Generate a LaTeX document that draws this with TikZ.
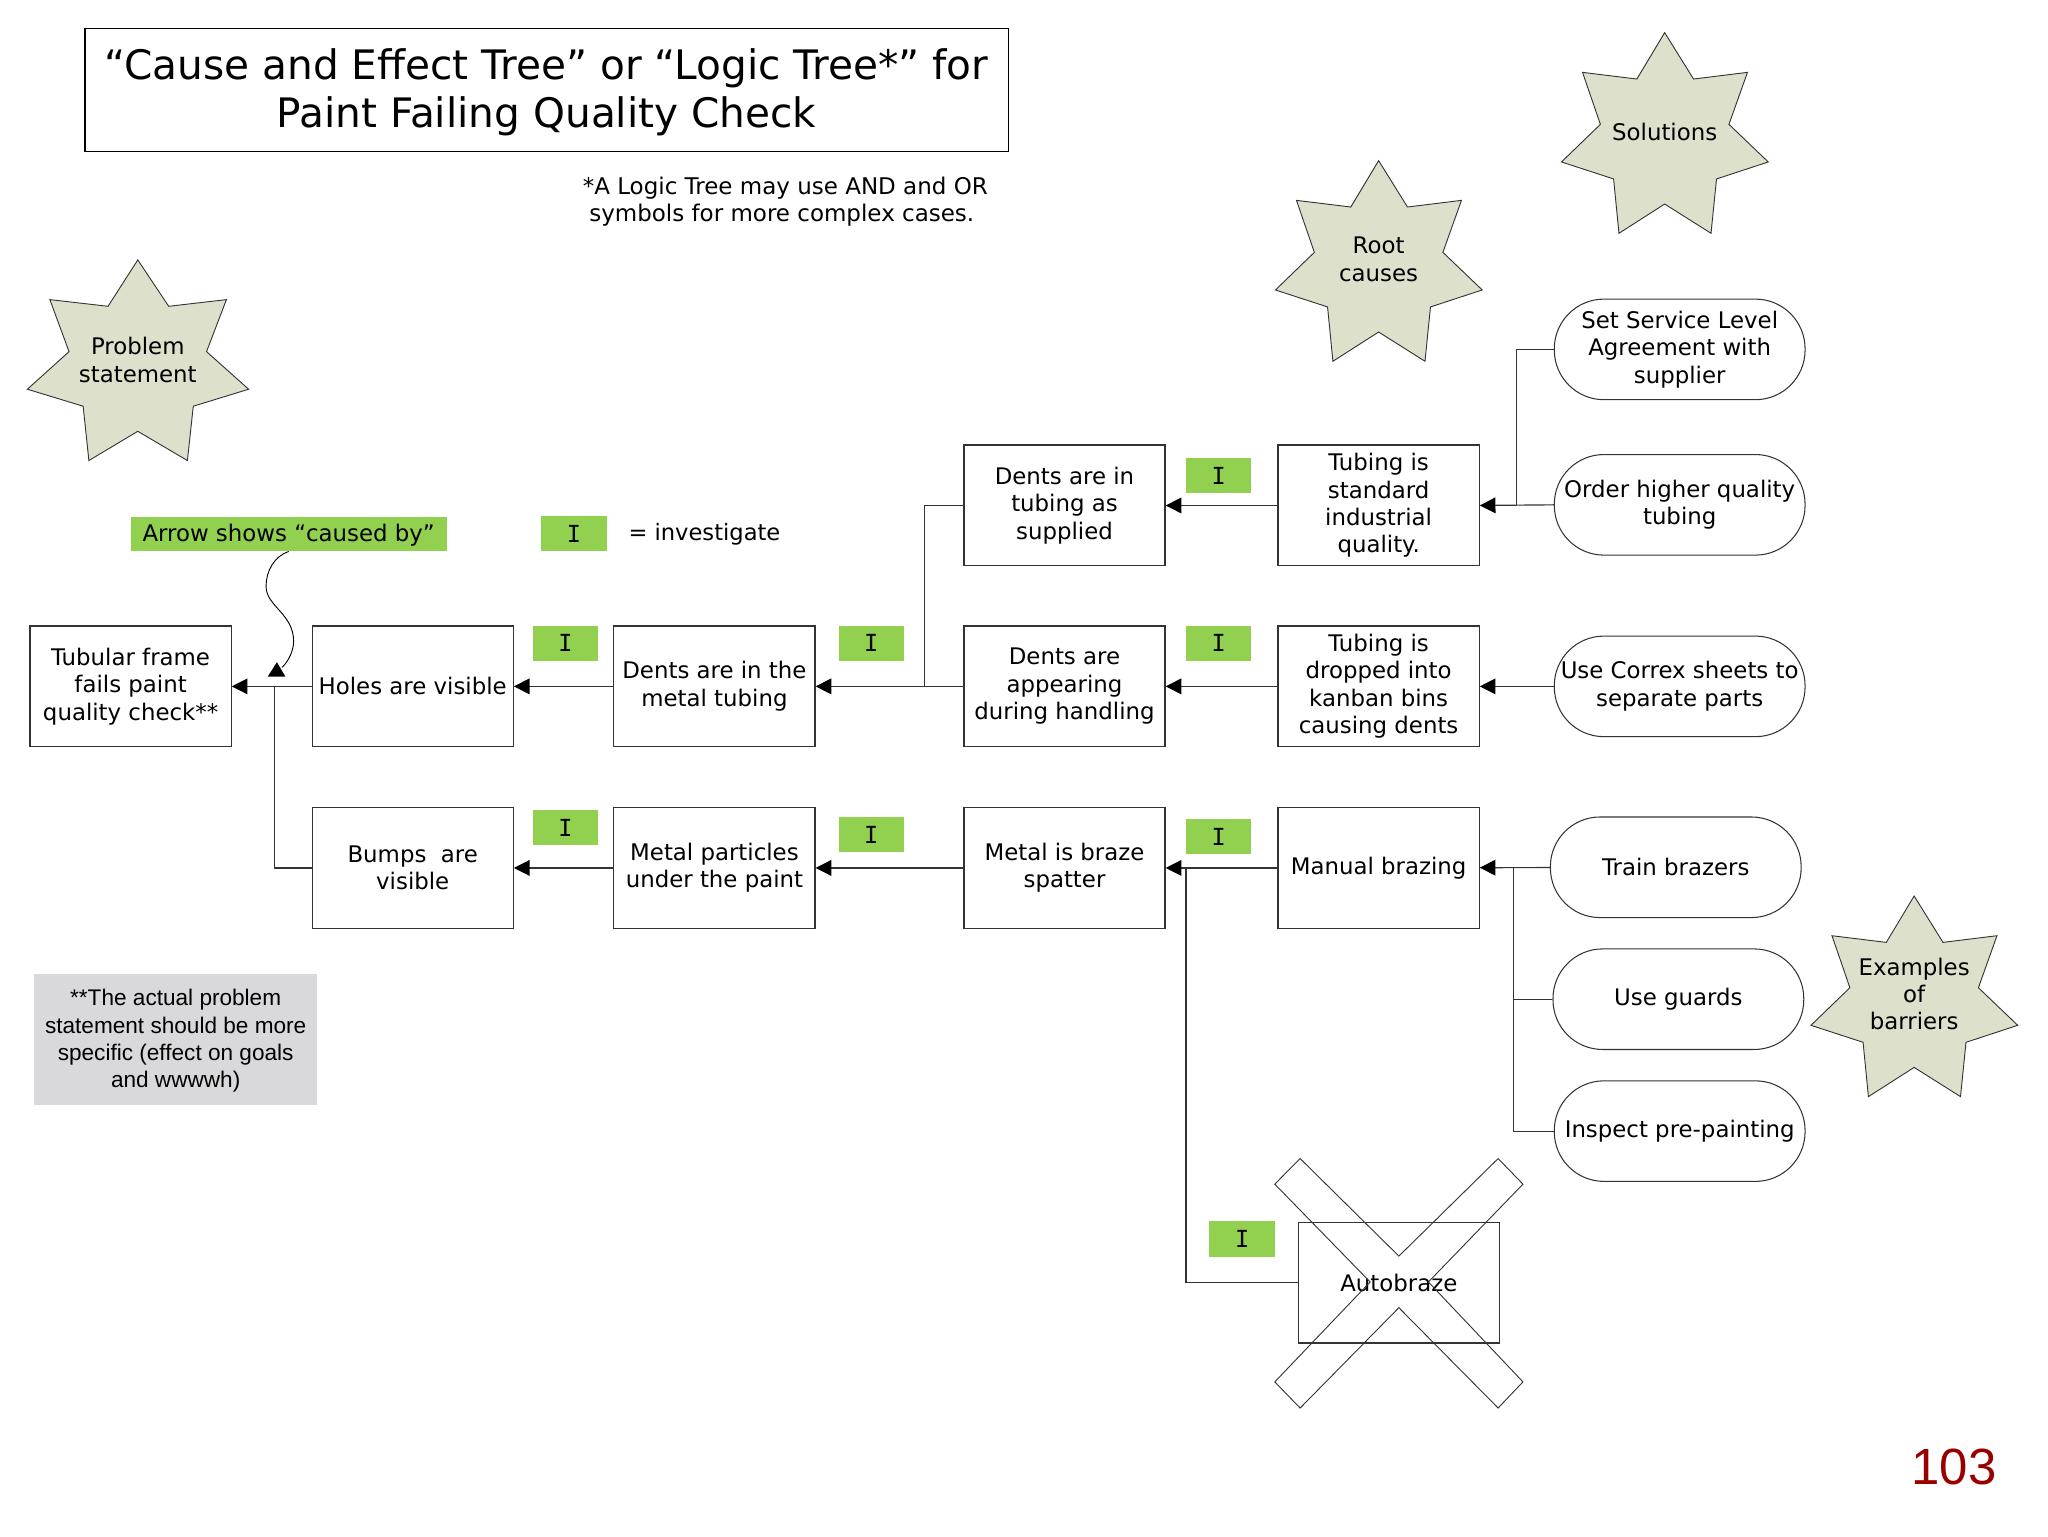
\documentclass[tikz,border=0pt]{standalone}
\usepackage{fontspec}
\setmainfont{DejaVu Sans}
\setmonofont{DejaVu Sans Mono}
\newfontfamily\arialfont{Liberation Sans}
\usetikzlibrary{arrows.meta}
\definecolor{lime}{HTML}{92D050}
\definecolor{starcol}{HTML}{DDE1CC}
\definecolor{notegrey}{HTML}{D9D9DB}
\definecolor{linecol}{HTML}{333333}
\definecolor{pagenum}{HTML}{990000}
\tikzset{
  txt/.style={font=\fontsize{17.5}{21}\selectfont, align=center, inner sep=0pt, text=black},
  causebox/.style={txt, draw=linecol, line width=0.9pt, minimum width=154pt, minimum height=92.5pt, fill=white},
  pillbox/.style={txt, draw=linecol, line width=0.8pt, minimum width=192pt, minimum height=77pt, rounded corners=38pt, fill=white},
  tag/.style={fill=lime, minimum width=50pt, minimum height=27pt, inner sep=0pt, font=\fontsize{18}{21}\ttfamily\selectfont},
  link/.style={draw=linecol, line width=0.9pt},
  tip/.style={link, -{Triangle[length=12pt,width=12pt,color=black]}},
  starshape/.style={draw=linecol, line width=0.7pt, fill=starcol, line join=miter},
}
\newcommand{\sevenstar}[3]{%
  \draw[starshape, shift={(#1,#2)}, xscale=#3]
    (0,0) -- (22.1,35.5) -- (63.4,30.4) -- (49.2,70.2) -- (79.3,99) -- (39.7,112)
    -- (35.5,153.6) -- (0,131.2) -- (-35,153.6) -- (-39.1,112) -- (-79,99)
    -- (-49.2,70.2) -- (-62.9,30.4) -- (-21.3,35.5) -- cycle;}
\begin{document}
\begin{tikzpicture}[x=1pt,y=-1pt]
\useasboundingbox (0,0) rectangle (1568,1176);

% title
\node[draw=black, line width=1.1pt, minimum width=707pt, minimum height=94pt, inner sep=0pt] (title) at (418.5,69) {};
\node[inner sep=0pt, align=center, font=\fontsize{31.1}{37}\selectfont] (titletext) at (418.5,70.5)
      {“Cause and Effect Tree” or “Logic Tree*” for\\Paint Failing Quality Check};
\node[txt, align=left, anchor=north west, font=\fontsize{17.6}{21}\selectfont] (remark) at (446,135)
      {*A Logic Tree may use AND and OR\\\hspace*{5pt}symbols for more complex cases.};

% stars
\sevenstar{105.5}{199}{1.07}
\sevenstar{1055.5}{123}{1}
\sevenstar{1274.5}{25}{1}
\sevenstar{1465.5}{686}{1}
\node[txt] (sProblem) at (105.5,275.5) {Problem\\statement};
\node[txt] (sRoot) at (1055.5,198.5) {Root\\causes};
\node[txt] (sSolutions) at (1274.5,101) {Solutions};
\node[txt] (sBarriers) at (1465.5,761) {Examples\\of\\barriers};

% legend
\node[fill=lime, minimum width=242pt, minimum height=26pt, inner sep=0pt] (causedby) at (221,409) {};
\node[txt] (causedtext) at (221,409.5) {Arrow shows “caused by”};
\node[tag] (legendI) at (439.5,408.5) {I};
\node[txt, anchor=west, font=\fontsize{17.3}{21}\selectfont] (legendT) at (481,409) {= investigate};

% boxes
\node[causebox] (tubular) at (100,525.5) {Tubular frame\\fails paint\\quality check**};
\node[causebox] (holes) at (316,525.5) {Holes are visible};
\node[causebox] (bumps) at (316,664.5) {Bumps\ \ are\\visible};
\node[causebox] (dentsmetal) at (547,525.5) {Dents are in the\\metal tubing};
\node[causebox] (metalpart) at (547,664.5) {Metal particles\\under the paint};
\node[causebox] (supplied) at (815,387) {Dents are in\\tubing as\\supplied};
\node[causebox] (handling) at (815,525.5) {Dents are\\appearing\\during handling};
\node[causebox] (spatter) at (815,664.5) {Metal is braze\\spatter};
\node[causebox] (standard) at (1055.5,387) {Tubing is\\standard\\industrial\\quality.};
\node[causebox] (kanban) at (1055.5,525.5) {Tubing is\\dropped into\\kanban bins\\causing dents};
\node[causebox] (manual) at (1055.5,664.5) {Manual brazing};
\node[causebox, fill=none] (autobraze) at (1071,982) {Autobraze};

% crossed-out mark
\draw[draw=linecol, line width=0.7pt]
  (995.4,887) -- (1071,961.7) -- (1147,887) -- (1166,906.6) -- (1093.6,981.5)
  -- (1166,1058) -- (1147,1078) -- (1071,1001.2) -- (995.4,1078) -- (976,1058)
  -- (1049,981.5) -- (976,906.6) -- cycle;

% solutions
\node[pillbox] (sla) at (1286,267.5) {Set Service Level\\Agreement with\\supplier};
\node[pillbox] (higher) at (1286,386.5) {Order higher quality\\tubing};
\node[pillbox] (correx) at (1286,525.5) {Use Correx sheets to\\separate parts};
\node[pillbox] (train) at (1283,664) {Train brazers};
\node[pillbox] (guards) at (1285,765) {Use guards};
\node[pillbox] (inspect) at (1286,866) {Inspect pre-painting};

% investigate tags
\node[tag] (i1) at (433,492.5) {I};
\node[tag] (i2) at (667,492.5) {I};
\node[tag] (i3) at (933,364) {I};
\node[tag] (i4) at (933,492.5) {I};
\node[tag] (i5) at (433,633.5) {I};
\node[tag] (i6) at (667,639) {I};
\node[tag] (i7) at (933,640.5) {I};
\node[tag] (i8) at (951,948.5) {I};

% grey note
\node[fill=notegrey, minimum width=217pt, minimum height=100pt, inner sep=0pt] (note) at (134.5,796) {};
\node[inner sep=0pt, align=center, font=\arialfont\fontsize{17.3}{21}\selectfont] (notetext) at (134.5,797)
      {**The actual problem\\statement should be more\\specific (effect on goals\\and wwwwh)};

% page number
\node[inner sep=0pt, text=pagenum, font=\arialfont\fontsize{39}{39}\selectfont] (pageno) at (1496,1123) {103};

% connectors
\draw[tip] (holes) -- (tubular);
\draw[tip] (dentsmetal) -- (holes);
\draw[tip] (handling) -- (dentsmetal);
\draw[tip] (kanban) -- (handling);
\draw[tip] (standard) -- (supplied);
\draw[tip] (correx) -- (kanban);
\draw[tip] (higher.west) -- (standard.east);
\draw[tip] (metalpart) -- (bumps);
\draw[tip] (spatter) -- (metalpart);
\draw[tip] (manual) -- (spatter);
\draw[tip] (train) -- (manual);

\coordinate (j1) at (210,525.5);
\coordinate (j2) at (708,525.5);
\coordinate (j3) at (1161,387);
\coordinate (j4) at (1159,664.5);
\coordinate (j5) at (908,664.5);
\draw[link] (bumps.west) -| (j1);
\draw[link] (supplied.west) -| (j2);
\draw[link] (sla.west) -| (j3);
\draw[link] (guards.west) -| (j4);
\draw[link] (inspect.west) -| (j4);
\draw[link] (autobraze.west) -| (j5);

% caused-by pointer
\coordinate (pointerend) at (216,511);
\draw[draw=black, line width=0.7pt] (causedby.south)
  .. controls (210,426) and (203.7,437) .. (203.7,449)
  .. controls (203.7,464) and (224.8,470) .. (224.8,491)
  .. controls (224.8,498) and (221,506) .. (pointerend);
\fill[black] (212,507) -- (218.5,518) -- (205,518) -- cycle;
\end{tikzpicture}
\end{document}
